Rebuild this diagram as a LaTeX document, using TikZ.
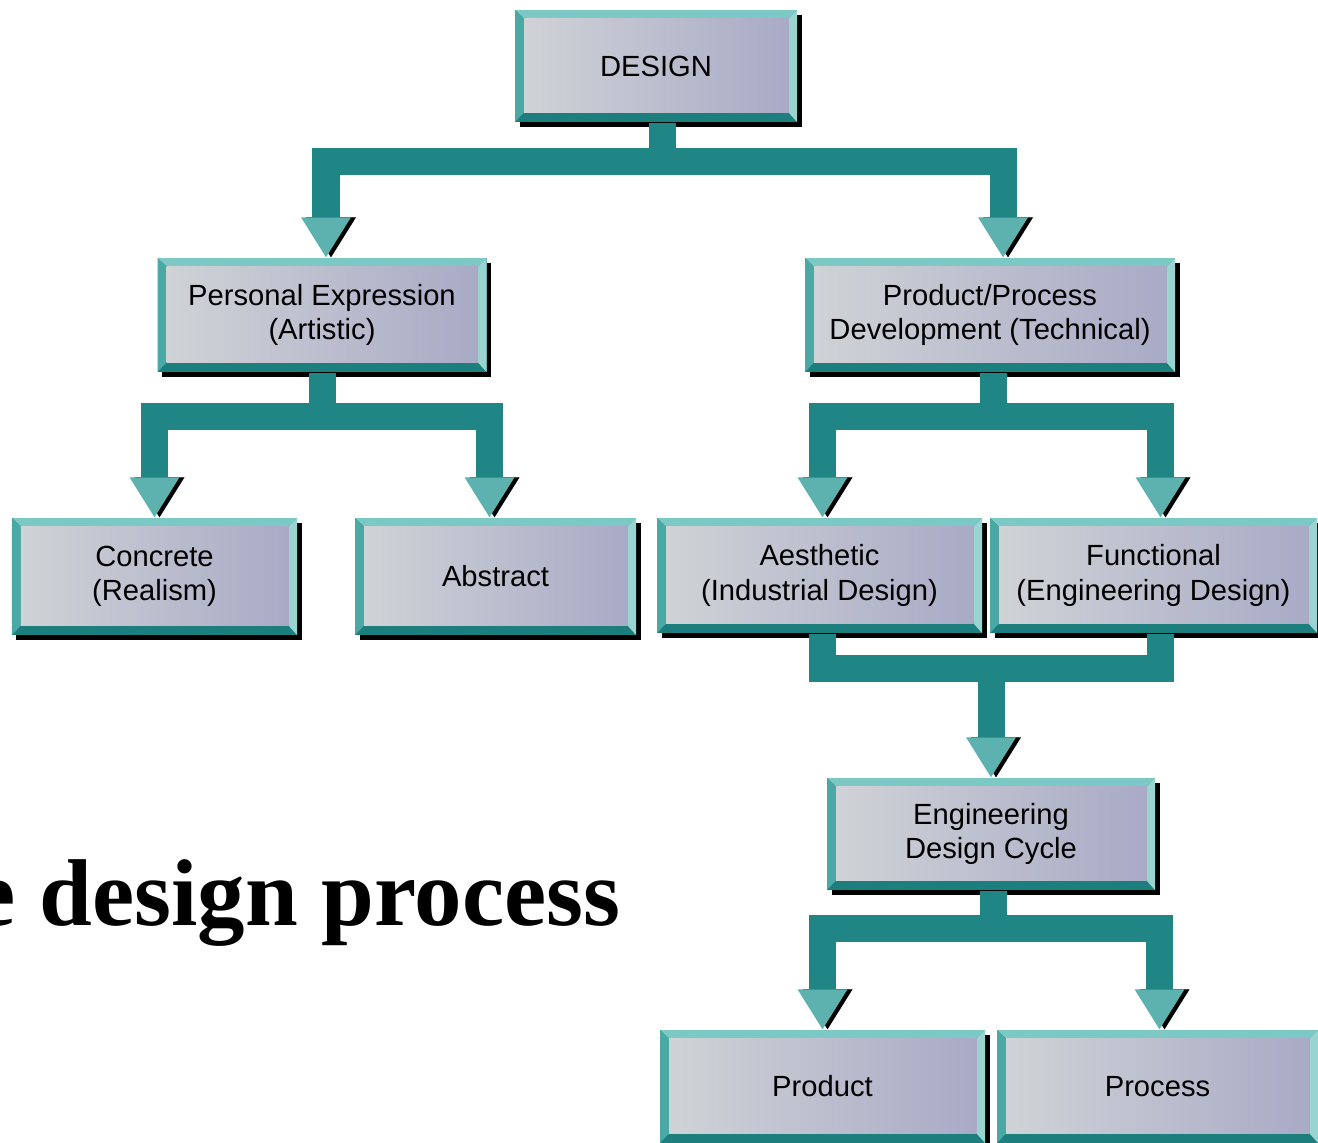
\documentclass[tikz,border=0pt]{standalone}
\usepackage{fontspec}
\setmainfont{Liberation Sans}
\newfontfamily\titlefont{Liberation Serif}
\usepackage{tikz}
\usetikzlibrary{arrows.meta,shadows}

\definecolor{barteal}{HTML}{1F8585}
\definecolor{arrteal}{HTML}{5DB2AF}
\definecolor{bevtop}{HTML}{7CC8C4}
\definecolor{bevleft}{HTML}{4AA8A5}
\definecolor{bevbot}{HTML}{1C7F7D}
\definecolor{bevright}{HTML}{9AD4D0}
\definecolor{faceL}{HTML}{CFD3D6}
\definecolor{faceR}{HTML}{A9AAC6}

\begin{document}
\begin{tikzpicture}[
	blk/.style={font=\fontsize{8.3}{9.7}\selectfont, align=center, inner sep=0, fill=bevbot,
		drop shadow={shadow xshift=0.045cm, shadow yshift=-0.05cm, fill=black, opacity=1},
		path picture={
			\coordinate (pnw) at (path picture bounding box.north west);
			\coordinate (pne) at (path picture bounding box.north east);
			\coordinate (psw) at (path picture bounding box.south west);
			\coordinate (pse) at (path picture bounding box.south east);
			\coordinate (inw) at ([shift={(0.09,-0.085)}]pnw);
			\coordinate (ine) at ([shift={(-0.085,-0.085)}]pne);
			\coordinate (isw) at ([shift={(0.09,0.095)}]psw);
			\coordinate (ise) at ([shift={(-0.085,0.095)}]pse);
			\fill[bevbot] (pnw) rectangle (pse);
			\fill[bevtop] (pnw) -- (pne) -- (ine) -- (inw) -- cycle;
			\fill[bevleft] (pnw) -- (inw) -- (isw) -- (psw) -- cycle;
			\fill[bevright] (pne) -- (pse) -- (ise) -- (ine) -- cycle;
			\shade[left color=faceL, right color=faceR] (inw) rectangle (ise);
		}},
	conn/.style={line width=0.27cm, draw=barteal, preaction={draw=black, transform canvas={xshift=0.05cm}}},
	arr/.style={-{Triangle[length=0.4cm, width=0.5cm, line width=0pt, fill=arrteal]},
		preaction={draw=black, transform canvas={xshift=0.05cm}, -{Triangle[length=0.4cm, width=0.5cm, line width=0pt, fill=black]}}}
]
\useasboundingbox (0,0) rectangle (13.18,-11.43);
% boxes
\node[blk, minimum width=2.82cm, minimum height=1.12cm] (design) at (6.56,-0.66) {DESIGN};
\node[blk, minimum width=3.29cm, minimum height=1.14cm] (pers) at (3.22,-3.15) {Personal Expression\\(Artistic)};
\node[blk, minimum width=3.70cm, minimum height=1.14cm] (pdev) at (9.90,-3.15) {Product/Process\\Development (Technical)};
\node[blk, minimum width=2.85cm, minimum height=1.17cm] (conc) at (1.545,-5.765) {Concrete\\(Realism)};
\node[blk, minimum width=2.81cm, minimum height=1.17cm] (abst) at (4.955,-5.765) {Abstract};
\node[blk, minimum width=3.25cm, minimum height=1.15cm] (aest) at (8.195,-5.755) {Aesthetic\\(Industrial Design)};
\node[blk, minimum width=3.27cm, minimum height=1.15cm] (func) at (11.535,-5.755) {Functional\\(Engineering Design)};
\node[blk, minimum width=3.28cm, minimum height=1.12cm] (cycle) at (9.91,-8.34) {Engineering\\Design Cycle};
\node[blk, minimum width=3.25cm, minimum height=1.13cm] (prod) at (8.225,-10.865) {Product};
\node[blk, minimum width=3.21cm, minimum height=1.13cm] (proc) at (11.575,-10.865) {Process};
% title
\node[anchor=base west, font=\titlefont\bfseries\fontsize{27}{30}\selectfont, inner sep=0] (ttl) at (-0.27,-9.25) {e design process};
% connectors
\draw[conn,arr] ([xshift=0.06cm]design.south) -- ++(0,-0.39) -| ([xshift=0.04cm]pers.north);
\draw[conn,arr] ([xshift=0.06cm]design.south) -- ++(0,-0.39) -| ([xshift=0.13cm]pdev.north);
\draw[conn,arr] (pers.south) -- ++(0,-0.44) -| (conc.north);
\draw[conn,arr] (pers.south) -- ++(0,-0.44) -| ([xshift=-0.06cm]abst.north);
\draw[conn,arr] ([xshift=0.03cm]pdev.south) -- ++(0,-0.44) -| ([xshift=0.03cm]aest.north);
\draw[conn,arr] ([xshift=0.03cm]pdev.south) -- ++(0,-0.44) -| ([xshift=0.07cm]func.north);
\draw[conn] ([xshift=0.03cm]aest.south) -- ++(0,-0.345) coordinate (mrg) -| ([xshift=0.07cm]func.south);
\draw[conn,arr] (mrg -| cycle.north) -- (cycle.north);
\draw[conn,arr] ([xshift=0.02cm]cycle.south) -- ++(0,-0.375) -| (prod.north);
\draw[conn,arr] ([xshift=0.02cm]cycle.south) -- ++(0,-0.375) -| ([xshift=0.02cm]proc.north);
\end{tikzpicture}
\end{document}
